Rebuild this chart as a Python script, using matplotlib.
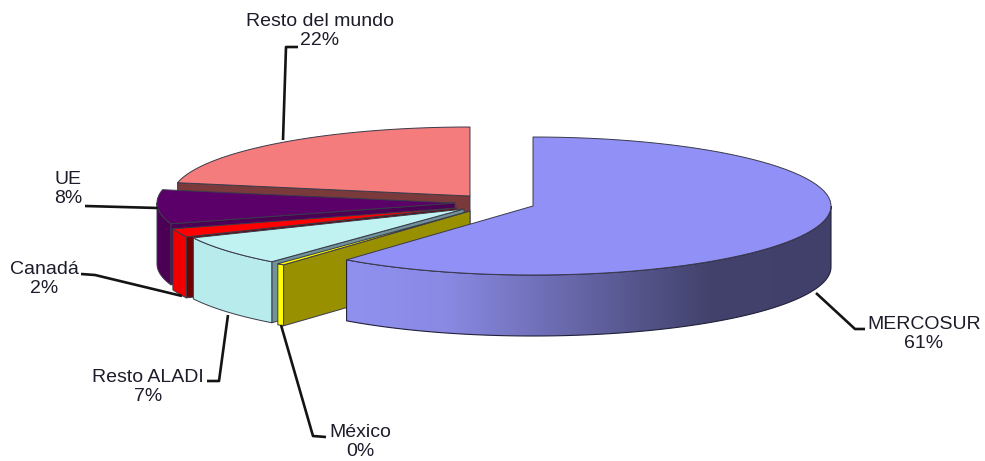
import numpy as np
import matplotlib
matplotlib.use('Agg')
import matplotlib.pyplot as plt
from matplotlib.colors import LinearSegmentedColormap
from matplotlib.patches import Polygon

# data
names = ['MERCOSUR', 'México', 'Resto ALADI', 'Canadá', 'UE', 'Resto del mundo']
shares = [61, 0.4, 7, 2, 8, 22]
percent_labels = ['61%', '0%', '7%', '2%', '8%', '22%']

# slice centres in pixels (each slice is pulled out a bit differently)
centers = [(533, 206), (470, 211), (464, 209), (457, 208), (455, 203), (470, 196)]
top_colors = ['#9090f6', '#ffff00', '#c0f2f2', '#ff0000', '#5a0068', '#f47c7c']
wall_colors = ['#9090f0', '#ffff00', '#b8ecec', '#ee0000', '#4b0056', '#7a3a3c']
side_colors = ['#9090f0', '#999000', '#6f929b', '#6e0000', '#4b0056', '#7a3a3c']
label_pos = [(924, 334), (360, 442), (148, 387), (44, 279), (68, 189), (320, 31)]
leaders = [[(816, 293), (855, 329), (865, 329)],
           [(281, 325), (313, 436), (326, 437)],
           [(228, 315), (219, 381), (207, 381)],
           [(182, 296), (95, 275), (81, 274)],
           [(158, 208), (85, 206)],
           [(283, 140), (286, 47), (298, 47)]]

RX = 298
RY = 69
DEPTH = 61
EDGE = '#3a3a4a'

total = sum(shares)
edges = 360 * np.cumsum([0] + shares) / total


def arc(center, t0, t1, dy=0):
    t = np.radians(np.linspace(t0, t1, 80))
    return np.column_stack([center[0] + RX * np.sin(t), center[1] - RY * np.cos(t) + dy])


def add_poly(ax, pts, color, lw=0.7, edge=EDGE):
    ax.add_patch(Polygon(pts, closed=True, facecolor=color, edgecolor=edge, linewidth=lw, joinstyle='round'))


fig = plt.figure(figsize=(9.85, 4.61), dpi=100)
ax = fig.add_axes([0, 0, 1, 1])
ax.axis('off')

# back to front, so the nearer slices cover the others
for i in [5, 4, 3, 2, 1, 0]:
    c = centers[i]
    t0, t1 = edges[i], edges[i + 1]
    top_arc = arc(c, t0, t1)

    # radial wall on the start side of the slice
    if i != 0:
        p = top_arc[0]
        add_poly(ax, [p, c, (c[0], c[1] + DEPTH), (p[0], p[1] + DEPTH)], side_colors[i])

    # outer wall, only the part that faces the viewer
    w0, w1 = max(t0, 90), min(t1, 270)
    if w0 < w1:
        front = arc(c, w0, w1)
        wall = np.vstack([front, arc(c, w1, w0, DEPTH)])
        if i == 0:
            cmap = LinearSegmentedColormap.from_list('wall', [(0, '#9090f0'), (0.2, '#8a8ae4'), (0.6, '#55558c'),
                                                             (0.75, '#42426c'), (1, '#40406a')])
            patch = Polygon(wall, closed=True, facecolor='none', edgecolor='#20203a', linewidth=0.8, zorder=1.1)
            ax.add_patch(patch)
            im = ax.imshow(np.linspace(0, 1, 256)[None, :], cmap=cmap, aspect='auto',
                           extent=(wall[:, 0].min(), wall[:, 0].max(), wall[:, 1].max(), wall[:, 1].min()), zorder=1)
            im.set_clip_path(patch)
        else:
            add_poly(ax, wall, wall_colors[i])

    # top face
    top = np.vstack([[c], top_arc])
    ax.add_patch(Polygon(top, closed=True, facecolor=top_colors[i], edgecolor=EDGE, linewidth=0.7,
                         zorder=1.2 if i == 0 else 1))

ax.set_xlim(0, 985)
ax.set_ylim(461, 0)

for pts in leaders:
    xs, ys = zip(*pts)
    ax.plot(xs, ys, color='#141414', lw=1.9, solid_capstyle='butt', solid_joinstyle='round', zorder=3)

for name, pct, pos in zip(names, percent_labels, label_pos):
    ax.text(pos[0], pos[1], name + '\n' + pct, ha='center', va='center', fontsize=14,
            family='Liberation Sans', color='#1c1c2a', linespacing=1.2, zorder=4)

fig.savefig('out.png', dpi=100, facecolor='white')
